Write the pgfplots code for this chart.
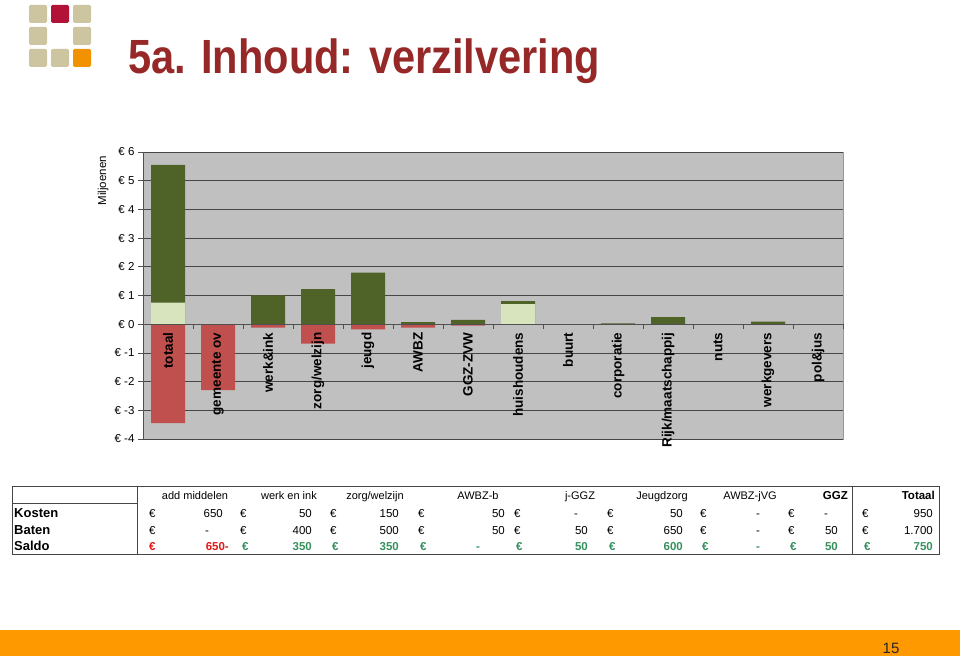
\documentclass[border=0pt]{standalone}
\usepackage{pgfplots}
\pgfplotsset{compat=1.18}
\usepackage{graphicx}
\usepackage{fontspec}
\setmainfont{Liberation Sans}
\definecolor{plotgray}{RGB}{192,192,192}
\definecolor{framegray}{RGB}{150,150,150}
\definecolor{gridcol}{RGB}{70,70,70}
\definecolor{axisgray}{RGB}{80,80,80}
\definecolor{darkgreen}{RGB}{79,98,40}
\definecolor{lightgreen}{RGB}{215,228,189}
\definecolor{barred}{RGB}{192,80,77}
\definecolor{titlered}{RGB}{150,40,40}
\definecolor{tan}{RGB}{204,197,160}
\definecolor{crim}{RGB}{178,18,56}
\definecolor{orng}{RGB}{242,146,0}
\definecolor{footerorange}{RGB}{255,153,0}
\definecolor{salgreen}{RGB}{55,145,95}
\definecolor{salred}{RGB}{225,25,25}
\definecolor{tableline}{RGB}{70,70,70}
\pgfplotsset{
  chartgeom/.style={
    at={(143pt,217pt)}, anchor=south west,
    scale only axis, width=700pt, height=287pt,
    xmin=-0.5, xmax=13.5, ymin=-4, ymax=6,
  },
}
\begin{document}
\begin{tikzpicture}[x=1pt,y=1pt]
\fill[white] (0,0) rectangle (960,656);
\path[use as bounding box] (0,0) rectangle (960,656);
% logo
\foreach \cx/\cy/\col in {29/5/tan, 51/5/crim, 73/5/tan, 29/27/tan, 73/27/tan, 29/49/tan, 51/49/tan, 73/49/orng}
  \fill[\col, rounded corners=1.5pt] (\cx,656-\cy) rectangle ++(18,-18);
% title
\node[anchor=base west, inner sep=0pt, text=titlered] at (128,582)
  {\resizebox{472pt}{\height}{\fontsize{48}{50}\selectfont\bfseries 5a. Inhoud: verzilvering}};
% chart: bars, grid, y axis
\begin{axis}[
  chartgeom,
  axis x line=none, axis y line=left,
  axis line style={-, draw=axisgray, line width=0.8pt},
  hide obscured y ticks=false,
  axis background/.style={fill=plotgray, draw=framegray},
  ymajorgrids, grid style={draw=gridcol, line width=0.7pt},
  ytick={-4,...,6},
  yticklabels={€ -4, € -3, € -2, € -1, € 0, € 1, € 2, € 3, € 4, € 5, € 6},
  yticklabel style={font=\fontsize{11.5}{12}\selectfont, text=black},
  tick align=outside, major tick length=5pt,
  tick style={draw=axisgray, line width=0.7pt},
  ylabel={Miljoenen},
  ylabel style={at={(axis description cs:-0.057,0.9)}, anchor=center, font=\fontsize{11.5}{12}\selectfont},
]
\addplot[ybar, bar width=34pt, bar shift=0pt, fill=darkgreen, draw=none]
  coordinates {(0,5.55) (2,1.0) (3,1.22) (4,1.8) (5,0.07) (6,0.15) (7,0.80) (9,0.025) (10,0.25) (12,0.09)};
\addplot[ybar, bar width=34pt, bar shift=0pt, fill=lightgreen, draw=none]
  coordinates {(0,0.75) (7,0.70)};
\addplot[ybar, bar width=34pt, bar shift=0pt, fill=barred, draw=none]
  coordinates {(0,-3.45) (1,-2.3) (2,-0.12) (3,-0.68) (4,-0.18) (5,-0.12) (6,-0.05)};
\end{axis}
% chart: category axis on top of the bars
\begin{axis}[
  chartgeom,
  axis x line=middle, axis y line=none,
  axis line style={-, draw=axisgray, line width=0.8pt},
  hide obscured x ticks=false,
  xtick={-0.5,0.5,...,13.5},
  x tick label as interval,
  xticklabels={totaal, gemeente ov, werk\&ink, zorg/welzijn, jeugd, AWBZ, GGZ-ZVW, huishoudens, buurt, corporatie, Rijk/maatschappij, nuts, werkgevers, pol\&jus},
  xticklabel style={rotate=90, anchor=east, font=\fontsize{13.5}{14}\selectfont\bfseries, text=black},
  ytick=\empty,
  tick align=outside, major tick length=5pt,
  tick style={draw=axisgray, line width=0.7pt},
]
\end{axis}
% table
\draw[tableline, line width=0.8pt] (12,170) rectangle (939,102);
\draw[tableline, line width=0.8pt] (137,170) -- (137,102);
\draw[tableline, line width=0.8pt] (852,170) -- (852,102);
\draw[tableline, line width=0.8pt] (12,153) -- (137,153);
% headers
\begin{scope}[every node/.style={inner sep=0pt, font=\fontsize{11}{12}\selectfont}]
\foreach \hx/\htxt in {195/{add middelen}, 289/{werk en ink}, 375/{zorg/welzijn}, 478/{AWBZ-b}, 580/{j-GGZ}, 662/{Jeugdzorg}, 750/{AWBZ-jVG}}
  \node[anchor=base] at (\hx,157) {\htxt};
\node[anchor=base east, font=\fontsize{11.5}{12}\selectfont\bfseries] at (848,157) {GGZ};
\node[anchor=base east, font=\fontsize{11.5}{12}\selectfont\bfseries] at (935,157) {Totaal};
\end{scope}
% row labels
\begin{scope}[every node/.style={inner sep=0pt, anchor=base west, font=\fontsize{13}{14}\selectfont\bfseries}]
\node at (14,139) {Kosten};
\node at (14,122) {Baten};
\node at (14,106) {Saldo};
\end{scope}
% euro signs
\begin{scope}[every node/.style={inner sep=0pt, anchor=base west, font=\fontsize{11.5}{12}\selectfont}]
\foreach \ex in {149,240,330,418,514,607,700,788,862} {
  \node at (\ex,139) {€};
  \node at (\ex,122) {€};
}
\node[text=salred, font=\fontsize{11.5}{12}\selectfont\bfseries] at (149,106) {€};
\foreach \ex in {242,332,420,516,609,702,790,864}
  \node[text=salgreen, font=\fontsize{11.5}{12}\selectfont\bfseries] at (\ex,106) {€};
\end{scope}
% values
\begin{scope}[every node/.style={inner sep=0pt, anchor=base east, font=\fontsize{11.5}{12}\selectfont}]
% Kosten
\foreach \vx/\vv in {223/650, 312/50, 399/150, 505/50, 683/50, 933/950}
  \node at (\vx,139) {\vv};
\foreach \vx in {576, 758, 826}
  \node[anchor=base] at (\vx,139) {-};
% Baten
\foreach \vx/\vv in {312/400, 399/500, 505/50, 588/50, 683/650, 838/50, 933/1.700}
  \node at (\vx,122) {\vv};
\foreach \vx in {207, 758}
  \node[anchor=base] at (\vx,122) {-};
% Saldo
\node[text=salred, font=\fontsize{11.5}{12}\selectfont\bfseries] at (229,106) {650-};
\foreach \vx/\vv in {312/350, 399/350, 588/50, 683/600, 838/50, 933/750}
  \node[text=salgreen, font=\fontsize{11.5}{12}\selectfont\bfseries] at (\vx,106) {\vv};
\foreach \vx in {478, 758}
  \node[anchor=base, text=salgreen, font=\fontsize{11.5}{12}\selectfont\bfseries] at (\vx,106) {-};
\end{scope}
% footer
\fill[footerorange] (0,0) rectangle (960,26);
\node[anchor=base, inner sep=0pt, text=black!85, font=\fontsize{15}{16}\selectfont] at (891,3) {15};
\end{tikzpicture}
\end{document}
